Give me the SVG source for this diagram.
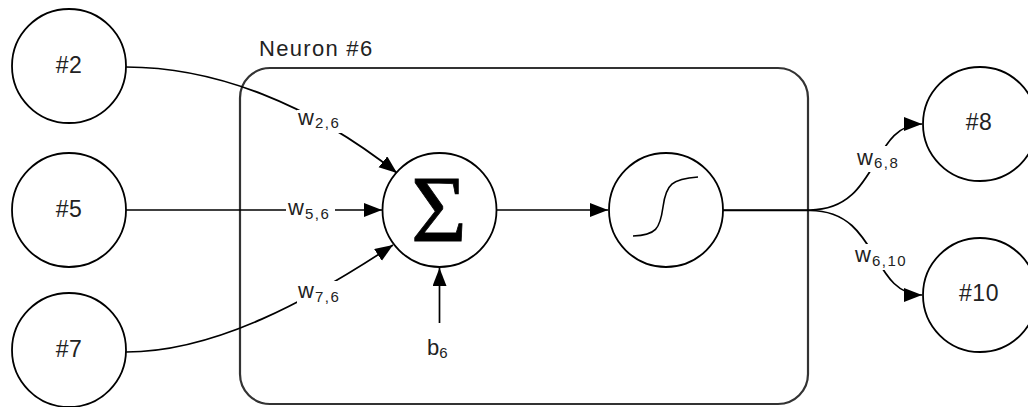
<svg xmlns="http://www.w3.org/2000/svg" width="1028" height="407" viewBox="0 0 1028 407">
<style>
.node{fill:#fff;stroke:#000;stroke-width:1.8}
.lbl{font-family:"Liberation Sans",Arial,sans-serif;font-size:23px;fill:#222;text-anchor:middle;letter-spacing:0.5px}
.w{font-family:"Liberation Sans",Arial,sans-serif;font-size:22px;fill:#222}
.sub{font-size:15px;letter-spacing:1.5px}
.conn{fill:none;stroke:#000;stroke-width:1.7}
.bg{fill:#fff}
</style>
<defs>
<marker id="arr" markerUnits="userSpaceOnUse" markerWidth="19" markerHeight="16" refX="18" refY="7" orient="auto">
<path d="M0,0 L18,7 L0,14 Z" fill="#000"/>
</marker>
</defs>
<rect width="1028" height="407" fill="#fff"/>
<g id="neuron6">
<rect x="240" y="68" width="568" height="336" rx="30" ry="30" fill="none" stroke="#333" stroke-width="2.2"/>
<text x="259" y="56" class="w" letter-spacing="1.3">Neuron #6</text>
</g>
<g id="connectors">
<path class="conn" d="M126,67 C215,67 310,104 397,173" marker-end="url(#arr)"/>
<path class="conn" d="M126,210 L382,210" marker-end="url(#arr)"/>
<path class="conn" d="M126,352 C215,352 310,300 393,245" marker-end="url(#arr)"/>
<path class="conn" d="M496,210 L608,210" marker-end="url(#arr)"/>
<path class="conn" d="M439.5,323 L439.5,268" marker-end="url(#arr)"/>
<path class="conn" d="M723,210 L810,210 C880,210 870,124 922,124" marker-end="url(#arr)"/>
<path class="conn" d="M723,210.5 L810,210.5 C880,210.5 870,295 922,295" marker-end="url(#arr)"/>
</g>
<g id="labels">
<rect class="bg" x="297" y="110" width="49" height="23"/>
<text class="w" x="298" y="125">w<tspan class="sub" dx="1" dy="3">2,6</tspan></text>
<rect class="bg" x="286" y="200" width="49" height="22"/>
<text class="w" x="288" y="215">w<tspan class="sub" dx="1" dy="4">5,6</tspan></text>
<rect class="bg" x="297" y="281" width="49" height="25"/>
<text class="w" x="298" y="298">w<tspan class="sub" dx="1" dy="4">7,6</tspan></text>
<rect class="bg" x="855" y="146" width="50" height="26"/>
<text class="w" x="857" y="165">w<tspan class="sub" dx="1" dy="3">6,8</tspan></text>
<rect class="bg" x="853" y="244" width="58" height="26"/>
<text class="w" x="855" y="262">w<tspan class="sub" dx="1" dy="4">6,10</tspan></text>
<text class="w" x="427" y="355">b<tspan class="sub" dy="3">6</tspan></text>
</g>
<g id="n2"><circle class="node" cx="69" cy="66" r="57"/><text class="lbl" x="69" y="73">#2</text></g>
<g id="n5"><circle class="node" cx="69" cy="210" r="57"/><text class="lbl" x="69" y="217">#5</text></g>
<g id="n7"><circle class="node" cx="69" cy="350" r="57"/><text class="lbl" x="69" y="357">#7</text></g>
<g id="sum"><circle class="node" cx="439.5" cy="210" r="57"/><text x="439" y="242" text-anchor="middle" font-family="Liberation Serif,serif" font-size="96" fill="#000" stroke="#000" stroke-width="0.8">Σ</text></g>
<g id="act"><circle class="node" cx="666" cy="210" r="57"/><path d="M633,236 C656,235 660,229 663,207 C666,184 672,179 698,177" fill="none" stroke="#000" stroke-width="1.6"/></g>
<g id="n8"><circle class="node" cx="980" cy="124" r="57"/><text class="lbl" x="979" y="130">#8</text></g>
<g id="n10"><circle class="node" cx="980" cy="295" r="57"/><text class="lbl" x="979" y="301">#10</text></g>
</svg>
